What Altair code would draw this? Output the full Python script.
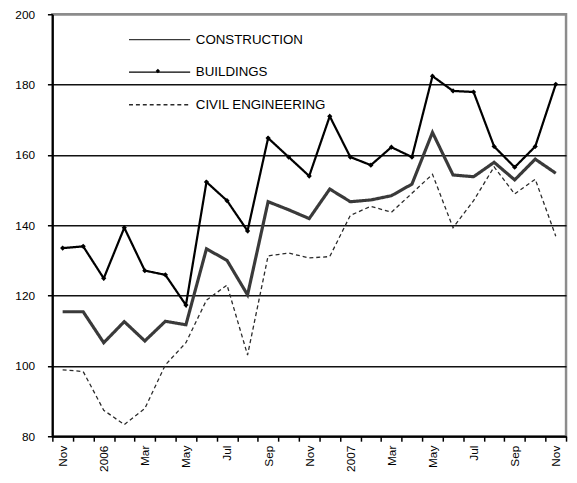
import altair as alt
import pandas as pd

series_names = ["CONSTRUCTION", "BUILDINGS", "CIVIL ENGINEERING"]
weight_names = ["heavy", "medium", "light"]
month_index = list(range(25))
tick_labels = ["Nov", "", "2006", "", "Mar", "", "May", "", "Jul", "", "Sep", "",
               "Nov", "", "2007", "", "Mar", "", "May", "", "Jul", "", "Sep", "", "Nov"]

construction = [115.4, 115.4, 106.6, 112.6, 107.1, 112.7, 111.7, 133.3, 130.0, 120.2,
                146.7, 144.4, 141.9, 150.3, 146.7, 147.2, 148.4, 151.7, 166.4, 154.3,
                153.8, 157.9, 152.9, 158.8, 154.8]
buildings = [133.5, 134.0, 124.9, 139.3, 127.1, 125.9, 117.3, 152.3, 147.0, 138.4,
             164.8, 159.4, 154.0, 171.0, 159.4, 157.1, 162.2, 159.4, 182.4, 178.2,
             177.9, 162.4, 156.5, 162.4, 180.1]
civil = [98.9, 98.4, 87.4, 83.3, 87.9, 100.3, 106.6, 118.7, 123.0, 103.1,
         131.3, 132.1, 130.7, 131.1, 142.8, 145.4, 143.7, 149.1, 154.5, 139.3,
         147.0, 156.6, 148.9, 153.1, 136.9]
y_ticks = [80, 100, 120, 140, 160, 180, 200]

rows = []
for name, w, vals in zip(series_names, weight_names, [construction, buildings, civil]):
    for i, v in zip(month_index, vals):
        rows.append({"idx": i, "series": name, "weight": w, "value": v})
df = pd.DataFrame(rows)
df_b = pd.DataFrame({"idx": month_index, "value": buildings,
                     "marker": ["BUILDINGS"] * len(month_index)})

label_expr = "[" + ",".join("'%s'" % t for t in tick_labels) + "][datum.value]"

x_enc = alt.X("idx:O", bandPosition=0.5,
              scale=alt.Scale(type="band", paddingInner=0, paddingOuter=0, domain=month_index),
              axis=alt.Axis(title=None, labelExpr=label_expr, labelAngle=270,
                            tickBand="extent", labelPadding=4, labelFontSize=12))
y_enc = alt.Y("value:Q", scale=alt.Scale(domain=[80, 200], nice=False, zero=False),
              axis=alt.Axis(title=None, values=y_ticks, grid=True,
                            gridColor={"condition": {"test": "datum.value === 200", "value": "#8c8c8c"},
                                       "value": "#111111"},
                            gridWidth=1.6, labelPadding=13, labelFontSize=12))

leg = alt.Legend(orient="none", legendX=102, legendY=19, title=None, padding=0,
                 symbolType="M-31,0H31", symbolSize=4, symbolStrokeWidth=1.3,
                 rowPadding=18, labelOffset=30, labelFontSize=13.5,
                 labelFont="Liberation Sans", labelColor="black")

lines = alt.Chart(df).mark_line().encode(
    x=x_enc, y=y_enc,
    color=alt.Color("series:N", scale=alt.Scale(domain=series_names,
                                                range=["#3a3a3a", "#000000", "#2a2a2a"]),
                    legend=leg),
    strokeDash=alt.StrokeDash("series:N", scale=alt.Scale(domain=series_names,
                                                          range=[[1, 0], [1, 0], [4, 3]]),
                              legend=leg),
    strokeWidth=alt.StrokeWidth("weight:N", scale=alt.Scale(domain=weight_names,
                                                            range=[3.2, 1.3, 1.1]),
                                legend=None),
)

pts = alt.Chart(df_b).mark_point(filled=True, color="black", size=28, opacity=1).encode(
    x=x_enc, y=y_enc,
    shape=alt.Shape("marker:N", scale=alt.Scale(domain=["BUILDINGS"], range=["diamond"]),
                    legend=alt.Legend(orient="none", legendX=101, legendY=51.5, title=None,
                                      padding=0, labelExpr="''", symbolSize=20,
                                      symbolFillColor="black", symbolStrokeColor="black",
                                      symbolStrokeWidth=0, labelFontSize=12)),
)

chart = alt.layer(lines, pts).properties(
    width=521, height=428,
    autosize=alt.AutoSizeParams(type="none"),
    padding={"left": 45, "top": 3, "right": 3, "bottom": 41},
).configure_view(
    stroke="#8c8c8c", strokeWidth=2.5
).configure_axis(
    domainColor="black", domainWidth=2, tickColor="black", tickWidth=1.5, tickSize=5,
    labelFont="Liberation Sans", labelColor="black"
)

chart.save("out.html", embed_options={"renderer": "svg", "actions": False})
